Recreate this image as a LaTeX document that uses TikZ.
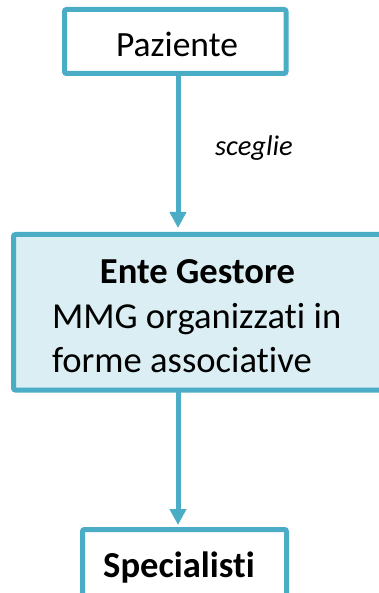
\documentclass[tikz,border=0pt]{standalone}
\usepackage{fontspec}
\setmainfont{Carlito}[Ligatures={NoCommon}]
\usetikzlibrary{arrows.meta}
\definecolor{bord}{HTML}{4BACC6}
\definecolor{lfill}{HTML}{DAEEF3}
\begin{document}
\begin{tikzpicture}[x=1pt,y=-1pt,
  box/.style={draw=bord, line width=5pt, rounded corners=2pt, inner sep=0pt, outer sep=0pt},
  arr/.style={draw=bord, line width=5pt, -{Triangle[width=16pt,length=16pt]}},
  txt/.style={inner sep=0pt, outer sep=0pt},
  big/.style={font=\fontsize{36.6}{44}\selectfont},
  bigb/.style={font=\fontsize{36.6}{44}\selectfont\bfseries}]
\useasboundingbox (0,0) rectangle (379,593);
\clip (0,0) rectangle (379,593);
\coordinate (ax) at (178,0);
\node[box, fill=white, minimum width=221.5pt, minimum height=64pt] (paz) at (175.25,41.5) {};
\node[box, fill=lfill, minimum width=376.5pt, minimum height=155.5pt] (mid) at (201.75,312.25) {};
\node[box, fill=white, minimum width=204pt, minimum height=90.5pt] (spec) at (184.5,574.75) {};
\draw[arr, shorten >=6.5pt] (paz.south -| ax) -- (mid.north -| ax);
\draw[arr, shorten >=4.5pt] (mid.south -| ax) -- (spec.north -| ax);
\node[txt, anchor=base, font=\fontsize{35.5}{42}\selectfont] (pazt) at (177,57) {Paziente};
\node[txt, anchor=base west, font=\fontsize{28.5}{34}\selectfont\itshape] (sc) at (215,156) {sceglie};
\node[txt, anchor=base, bigb] (ent) at (197.5,283) {Ente Gestore};
\node[txt, anchor=base west, big] (mmg) at (52,328) {MMG organizzati in};
\node[txt, anchor=base west, big] (forme) at (52,372) {forme associative};
\node[txt, anchor=base, bigb] (spt) at (179,577) {Specialisti};
\end{tikzpicture}
\end{document}
